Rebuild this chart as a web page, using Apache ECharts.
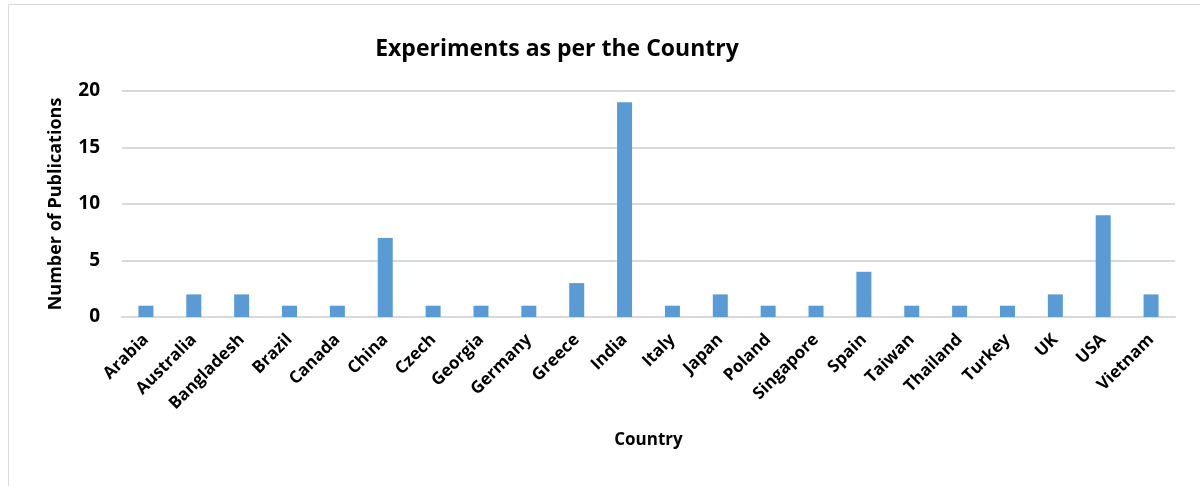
<!DOCTYPE html>
<html>
<head>
<meta charset="utf-8">
<script src="https://cdn.jsdelivr.net/npm/echarts@6/dist/echarts.min.js"></script>
<style>
html, body { margin: 0; padding: 0; background: #fff; }
#chart { width: 1200px; height: 486px; }
</style>
</head>
<body>
<div id="chart"></div>
<script>
// 国家
var countries = ['Arabia', 'Australia', 'Bangladesh', 'Brazil', 'Canada', 'China', 'Czech', 'Georgia', 'Germany', 'Greece', 'India',
	'Italy', 'Japan', 'Poland', 'Singapore', 'Spain', 'Taiwan', 'Thailand', 'Turkey', 'UK', 'USA', 'Vietnam'];
// 论文数量
var publications = [1, 2, 2, 1, 1, 7, 1, 1, 1, 3, 19, 1, 2, 1, 1, 4, 1, 1, 1, 2, 9, 2];
// 纵轴刻度
var yTicks = [0, 5, 10, 15, 20];

var fontFamily = '"Open Sans", "Liberation Sans", sans-serif';
var myChart = echarts.init(document.getElementById('chart'));
var option = {
	animation : false,
	graphic : [{
		type : 'rect',
		shape : { x : 8.5, y : 4.5, width : 1200, height : 500 },
		style : { fill : 'none', stroke : '#d9d9d9', lineWidth : 1 },
		silent : true
	}],
	title : {
		text : 'Experiments as per the Country',
		left : 552,
		top : 33,
		textAlign : 'center',
		textStyle : { fontFamily : fontFamily, fontSize : 23, fontWeight : 'bold', color : '#000' }
	},
	grid : {
		left : 122,
		right : 25,
		top : 91,
		bottom : 169
	},
	xAxis : {
		type : 'category',
		data : countries,
		name : 'Country',
		nameLocation : 'middle',
		nameGap : 115,
		nameTextStyle : { fontFamily : fontFamily, fontSize : 17, fontWeight : 'bold', color : '#000' },
		axisLine : { lineStyle : { color : '#d9d9d9', width : 2 } },
		axisTick : { show : false },
		axisLabel : {
			rotate : 45,
			interval : 0,
			margin : 20,
			fontFamily : fontFamily,
			fontSize : 17,
			fontWeight : 'bold',
			color : '#000'
		}
	},
	yAxis : {
		type : 'value',
		min : yTicks[0],
		max : yTicks[yTicks.length - 1],
		interval : 5,
		name : 'Number of Publications',
		nameLocation : 'middle',
		nameGap : 57,
		nameTextStyle : { fontFamily : fontFamily, fontSize : 18, fontWeight : 'bold', color : '#000' },
		axisLine : { show : false },
		axisTick : { show : false },
		axisLabel : {
			margin : 22,
			fontFamily : fontFamily,
			fontSize : 19,
			fontWeight : 'bold',
			color : '#000'
		},
		splitLine : { lineStyle : { color : '#d9d9d9', width : 2 } }
	},
	series : [{
		type : 'bar',
		data : publications,
		barWidth : 15,
		itemStyle : { color : '#5b9bd5' }
	}]
};
myChart.setOption(option);
</script>
</body>
</html>
